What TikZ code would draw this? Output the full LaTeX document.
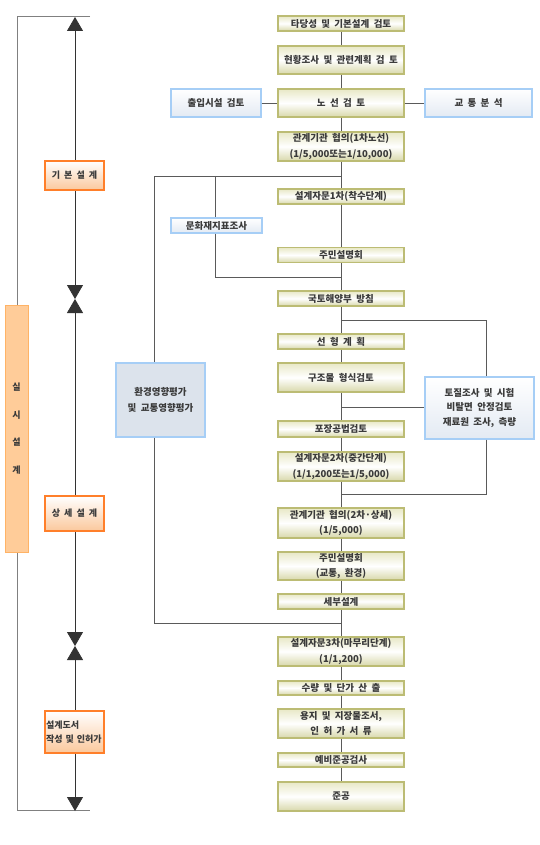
\documentclass[tikz,border=0pt]{standalone}
\usepackage{fontspec}
\setmainfont[WordSpace=2]{Noto Sans CJK KR}
\usetikzlibrary{arrows.meta}
\definecolor{mainedge}{HTML}{BCBC74}
\definecolor{maintop}{HTML}{E8E8C6}
\definecolor{mainbot}{HTML}{D8D8AA}
\definecolor{blueedge}{HTML}{A6CEF6}
\definecolor{bluebot}{HTML}{E3EAF3}
\definecolor{envfill}{HTML}{DCE3EC}
\definecolor{orgedge}{HTML}{FF7F2A}
\definecolor{orgbot}{HTML}{FBC89C}
\definecolor{tallfill}{HTML}{FFCC99}
\definecolor{talledge}{HTML}{FFB366}
\definecolor{txt}{HTML}{3A3A3A}
\definecolor{linegray}{HTML}{5A5A5A}
\begin{document}
\begin{tikzpicture}[x=1pt,y=-1pt,
  mbox/.style={draw=mainedge, line width=1.1pt, top color=maintop, bottom color=mainbot, middle color=white,
    minimum width=126pt, inner sep=0pt, text=txt, align=center, font=\fontsize{9.5}{15.5}\selectfont\bfseries},
  sbox/.style={draw=blueedge, line width=1.1pt, top color=white, bottom color=bluebot,
    inner sep=0pt, text=txt, align=center, font=\fontsize{9.5}{15.5}\selectfont\bfseries},
  obox/.style={draw=orgedge, line width=1.1pt, top color=white, bottom color=orgbot,
    minimum width=59pt, inner sep=0pt, text=txt, font=\fontsize{9}{14}\selectfont\bfseries},
  conn/.style={draw=linegray, line width=0.9pt},
  brk/.style={draw=gray, line width=0.8pt},
  tri/.style={draw=black!80, line width=0.8pt, {Triangle[length=14pt,width=16pt]}-{Triangle[length=14pt,width=16pt]}}
]
\useasboundingbox (0,0) rectangle (540,845);

% ---- left bracket and arrows (drawn first, boxes on top)
\coordinate (tl) at (17,16);
\coordinate (tr) at (90,16);
\coordinate (bl) at (17,810);
\coordinate (br) at (90,810);
\coordinate (a0) at (75,17);
\coordinate (a1) at (75,299);
\coordinate (a2) at (75,646);
\coordinate (a3) at (75,811);
\draw[brk] (tr) -- (tl) -- (bl) -- (br);
\draw[tri] (a0) -- (a1);
\draw[tri] (a1) -- (a2);
\draw[tri] (a2) -- (a3);

\node[draw=talledge, line width=1pt, fill=tallfill, minimum width=23pt, minimum height=247pt, inner sep=0pt,
  text=txt, align=center, font=\fontsize{9}{27.7}\selectfont\bfseries] (tall) at (16.5,428.5) {실\\시\\설\\계};

\node[obox, minimum height=29pt, align=center] (ph1) at (74.5,175.5) {기 본 설 계};
\node[obox, minimum height=35pt, align=center] (ph2) at (74.5,513.5) {상 세 설 계};
\node[obox, minimum height=42pt, align=left, text width=57pt] (ph3) at (74.5,732) {설계도서\\작성 및 인허가};

% ---- main column
\node[mbox, minimum height=15pt] (b1) at (341,23.5) {타당성 및 기본설계 검토};
\node[mbox, minimum height=28pt] (b2) at (341,60) {현황조사 및 관련계획 검 토};
\node[mbox, minimum height=28pt] (b3) at (341,103) {노 선 검 토};
\node[mbox, minimum height=29pt] (b4) at (341,146.5) {관계기관 협의(1차노선)\\(1/5,000또는1/10,000)};
\node[mbox, minimum height=15pt] (b5) at (341,196.5) {설계자문1차(착수단계)};
\node[mbox, minimum height=15pt] (b6) at (341,255) {주민설명회};
\node[mbox, minimum height=15pt] (b7) at (341,298.5) {국토해양부 방침};
\node[mbox, minimum height=15pt] (b8) at (341,341.5) {선 형 계 획};
\node[mbox, minimum height=29pt] (b9) at (341,377.5) {구조물 형식검토};
\node[mbox, minimum height=16pt] (b10) at (341,429) {포장공법검토};
\node[mbox, minimum height=29pt] (b11) at (341,466.5) {설계자문2차(중간단계)\\(1/1,200또는1/5,000)};
\node[mbox, minimum height=30pt] (b12) at (341,523) {관계기관 협의(2차·상세)\\(1/5,000)};
\node[mbox, minimum height=28pt] (b13) at (341,566) {주민설명회\\(교통, 환경)};
\node[mbox, minimum height=15pt] (b14) at (341,601.5) {세부설계};
\node[mbox, minimum height=29pt] (b15) at (341,651.5) {설계자문3차(마무리단계)\\(1/1,200)};
\node[mbox, minimum height=14pt] (b16) at (341,688) {수량 및 단가 산 출};
\node[mbox, minimum height=29pt] (b17) at (341,723.5) {용지 및 지장물조서,\\인 허 가 서 류};
\node[mbox, minimum height=14pt] (b18) at (341,760) {예비준공검사};
\node[mbox, minimum height=29pt] (b19) at (341,796.5) {준공};

% ---- side boxes
\node[sbox, minimum width=90pt, minimum height=28pt] (acc) at (216,103) {출입시설 검토};
\node[sbox, minimum width=107pt, minimum height=28pt] (trf) at (478.5,103) {교 통 분 석};
\node[sbox, minimum width=91pt, minimum height=15pt] (cul) at (216.5,225.5) {문화재지표조사};
\node[draw=blueedge, line width=1.1pt, fill=envfill, minimum width=89pt, minimum height=74pt, inner sep=0pt,
  text=txt, align=center, font=\fontsize{9.5}{16}\selectfont\bfseries] (env) at (160.5,400) {환경영향평가\\및 교통영향평가};
\node[sbox, minimum width=109pt, minimum height=62pt, font=\fontsize{9.5}{14.5}\selectfont\bfseries] (soil) at (479.5,408) {토질조사 및 시험\\비탈면 안정검토\\재료원 조사, 측량};

% ---- main chain
\foreach \a/\b in {b1/b2,b2/b3,b3/b4,b4/b5,b5/b6,b6/b7,b7/b8,b8/b9,b9/b10,b10/b11,b11/b12,b12/b13,b13/b14,b14/b15,b15/b16,b16/b17,b17/b18,b18/b19}
  \draw[conn] (\a) -- (\b);
\draw[conn] (acc) -- (b3);
\draw[conn] (b3) -- (trf);

% ---- junctions on the main line
\coordinate (ja) at (341,176);
\coordinate (jb) at (341,277);
\coordinate (jc) at (341,320);
\coordinate (jf) at (341,407);
\coordinate (je) at (341,494);
\coordinate (jd) at (341,623);
\coordinate (la) at (154,176);
\coordinate (lb) at (154,623);
\coordinate (ia) at (215,176);
\coordinate (ib) at (215,277);
\coordinate (ra) at (486,320);
\coordinate (rb) at (486,494);

\draw[conn] (ja) -- (la) -- (la |- env.north);
\draw[conn] (la |- env.south) -- (lb) -- (jd);
\draw[conn] (ia) -- (ia |- cul.north);
\draw[conn] (ia |- cul.south) -- (ib) -- (jb);
\draw[conn] (jc) -- (ra) -- (ra |- soil.north);
\draw[conn] (ra |- soil.south) -- (rb) -- (je);
\draw[conn] (jf) -- (soil.west |- jf);
\end{tikzpicture}
\end{document}
